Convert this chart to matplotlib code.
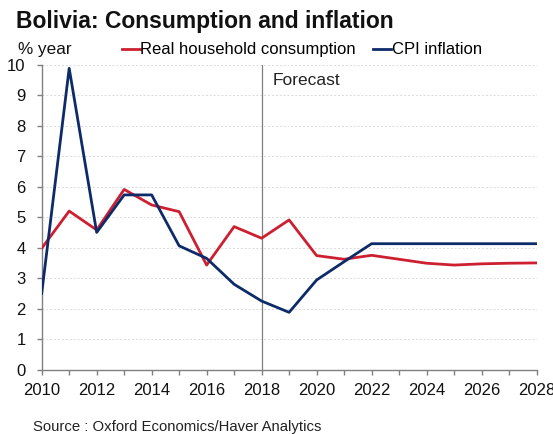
import matplotlib
matplotlib.use("Agg")
import matplotlib.pyplot as plt

plt.rcParams['font.family'] = ['Liberation Sans', 'DejaVu Sans']

years = list(range(2010, 2029))
consumption = [3.99, 5.21, 4.59, 5.92, 5.41, 5.19, 3.44, 4.70, 4.32, 4.92, 3.75, 3.63, 3.76,
               3.63, 3.50, 3.44, 3.48, 3.50, 3.51]
cpi = [2.51, 9.89, 4.51, 5.74, 5.74, 4.07, 3.66, 2.81, 2.26, 1.89, 2.95, 3.55, 4.14,
       4.14, 4.14, 4.14, 4.14, 4.14, 4.14]
xticks = list(range(2010, 2029, 2))
yticks = list(range(0, 11))

red = '#CC2030'
blue = '#0D2B69'

fig = plt.figure(figsize=(5.53, 4.34), dpi=100)
ax = fig.add_axes([0.0754, 0.1475, 0.8948, 0.7028])

ax.plot(years, consumption, color=red, lw=2.0, label='Real household consumption', zorder=3)
ax.plot(years, cpi, color=blue, lw=2.0, label='CPI inflation', zorder=4)
ax.axvline(2018, color='#808080', lw=0.9, zorder=2)
ax.text(2018.4, 9.48, 'Forecast', fontsize=12.5, color='#222222', va='center', ha='left')

ax.set_xlim(2010, 2028)
ax.set_ylim(0, 10)
ax.set_xticks(range(2010, 2029))
ax.set_xticklabels([str(y) if y in xticks else '' for y in range(2010, 2029)])
ax.set_yticks(yticks)
ax.grid(axis='y', color='#dadada', lw=0.7, linestyle=(0, (2, 2)))
ax.set_axisbelow(True)
for s in ['top', 'right']:
    ax.spines[s].set_visible(False)
for s in ['left', 'bottom']:
    ax.spines[s].set_color('#808080')
    ax.spines[s].set_linewidth(1.0)
ax.tick_params(axis='both', direction='out', length=3.5, color='#808080', labelsize=12,
               labelcolor='#111111', width=1.0)
ax.tick_params(axis='y', pad=8)
ax.tick_params(axis='x', pad=6)

fig.text(0.029, 0.935, 'Bolivia: Consumption and inflation', fontsize=16.5, fontweight='bold',
         color='#111111', va='baseline', ha='left')
fig.text(0.033, 0.885, '% year', fontsize=12.3, color='#111111', va='center', ha='left')
fig.text(0.06, 0.016, 'Source : Oxford Economics/Haver Analytics', fontsize=10.7, color='#222222',
         va='center', ha='left')

leg = fig.legend(loc='center left', bbox_to_anchor=(0.220, 0.885), ncol=2, frameon=False,
                 handlelength=1.08, handletextpad=0.05, columnspacing=1.0, fontsize=12,
                 borderaxespad=0, borderpad=0)

fig.savefig('out.png', dpi=100, facecolor='white')
